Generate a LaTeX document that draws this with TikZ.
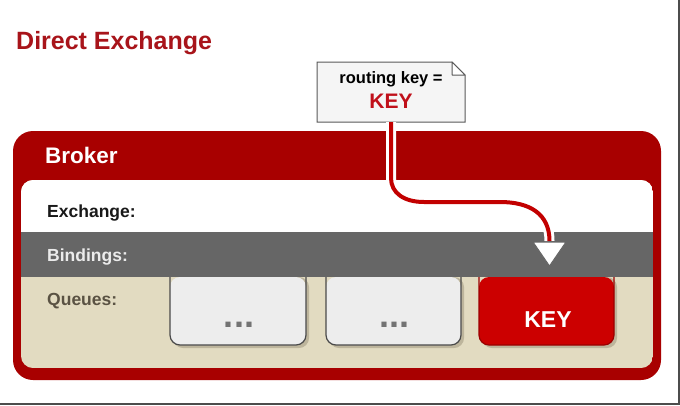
\documentclass[tikz,border=0pt]{standalone}
\usepackage{fontspec}
\setmainfont{Liberation Sans}
\definecolor{brokerred}{HTML}{A80000}
\definecolor{titlered}{HTML}{A8141A}
\definecolor{keyred}{HTML}{C0101A}
\definecolor{linered}{HTML}{C20000}
\definecolor{queuered}{HTML}{CC0000}
\definecolor{queueredborder}{HTML}{9A0000}
\definecolor{beige}{HTML}{E2DBC1}
\definecolor{beigeshadow}{HTML}{BDB59C}
\definecolor{bandgray}{HTML}{666666}
\definecolor{qfill}{HTML}{EDEDED}
\definecolor{qborder}{HTML}{4A4A4A}
\definecolor{notefill}{HTML}{F5F5F5}
\definecolor{queuestext}{HTML}{5A5243}
\begin{document}
\begin{tikzpicture}[x=1pt,y=-1pt,
  txt/.style={inner sep=0pt, font=\bfseries},
  lbl/.style={txt, anchor=base west, font=\bfseries\fontsize{17.5}{20}\selectfont},
  qbox/.style={fill=qfill, draw=qborder, line width=1.2pt, rounded corners=10pt},
  qshadow/.style={fill=beigeshadow, rounded corners=10pt},
  dots/.style={txt, anchor=base, text=black!55, font=\bfseries\fontsize{36}{38}\selectfont},
  connector/.style={line width=#1, line cap=butt}
]
\useasboundingbox (0,0) rectangle (680,405);
\fill[white] (0,0) rectangle (680,405);
% screenshot frame lines
\draw[line width=2pt, draw=black!70] (679,0) -- (679,404);
\draw[line width=2pt, draw=black!70] (0,403.5) -- (680,403.5);

% title
\node[txt, anchor=base west, text=titlered, font=\bfseries\fontsize{25}{29}\selectfont] (title) at (16,49) {Direct Exchange};

% broker
\fill[brokerred, rounded corners=20pt] (13,131) rectangle (661,380);
\node[txt, anchor=base west, text=white, font=\bfseries\fontsize{22.5}{26}\selectfont] (broker) at (45,163) {Broker};
\begin{scope}
  \clip[rounded corners=12pt] (21,180) rectangle (653,368);
  \fill[beige] (21,180) rectangle (653,368);
  \fill[white] (21,180) rectangle (653,232);
  \fill[bandgray] (21,232) rectangle (653,277);
\end{scope}
\node[lbl, text=black!90] (exlabel) at (47,217) {Exchange:};
\node[lbl, text=black!8] (bindlabel) at (47,261) {Bindings:};
\node[lbl, text=queuestext] (qlabel) at (47,305) {Queues:};

% queues
\fill[qshadow] (173,277) -- (173,348) -- (309,348) -- (309,277) -- cycle;
\fill[qshadow] (329,277) -- (329,348) -- (464,348) -- (464,277) -- cycle;
\fill[qshadow] (482,277) -- (482,348) -- (617,348) -- (617,277) -- cycle;
\path[qbox, draw=none] (170,277) -- (170,345) -- (306,345) -- (306,277) -- cycle;
\draw[qbox, fill=none] (170,277) -- (170,345) -- (306,345) -- (306,277);
\path[qbox, draw=none] (326,277) -- (326,345) -- (461,345) -- (461,277) -- cycle;
\draw[qbox, fill=none] (326,277) -- (326,345) -- (461,345) -- (461,277);
\path[qbox, draw=none, fill=queuered] (479,277) -- (479,345) -- (614,345) -- (614,277) -- cycle;
\draw[qbox, fill=none, draw=queueredborder] (479,277) -- (479,345) -- (614,345) -- (614,277);
\node[dots] (q1) at (239,327) {...};
\node[dots] (q2) at (394,327) {...};
\node[txt, anchor=base, text=white, font=\bfseries\fontsize{23}{26}\selectfont] (q3) at (548,327) {KEY};
\fill[bandgray] (160,274) rectangle (620,277);

% note
\node[minimum width=148pt, minimum height=60pt, inner sep=0pt] (note) at (391,92) {};
\draw[fill=notefill, draw=black!65, line width=1pt]
  (317,62) -- (452,62) -- (465,75) -- (465,122) -- (317,122) -- cycle;
\draw[fill=white, draw=black!65, line width=1pt, line join=round] (452,62) -- (452,75) -- (465,75) -- cycle;
\node[txt, anchor=base, font=\bfseries\fontsize{16.5}{19}\selectfont] (notetext) at (391,83) {routing key =};
\node[txt, anchor=base, text=keyred, font=\bfseries\fontsize{21}{24}\selectfont] (notekey) at (391,108) {KEY};

% routing connector
\coordinate (tip) at (549.5,241);
\draw[connector=10pt, white]
  (note.south) -- (391,178) .. controls (391,193) and (404,202) .. (424,202)
  -- (500,202) .. controls (530,202) and (549.5,214) .. (tip);
\draw[connector=4pt, linered]
  (note.south) -- (391,178) .. controls (391,193) and (404,202) .. (424,202)
  -- (500,202) .. controls (530,202) and (549.5,214) .. (tip);

% triangle
\draw[fill=white, draw=black!60, line width=1pt, line join=miter] (533,242) -- (566,242) -- (549.5,266) -- cycle;
\end{tikzpicture}
\end{document}
